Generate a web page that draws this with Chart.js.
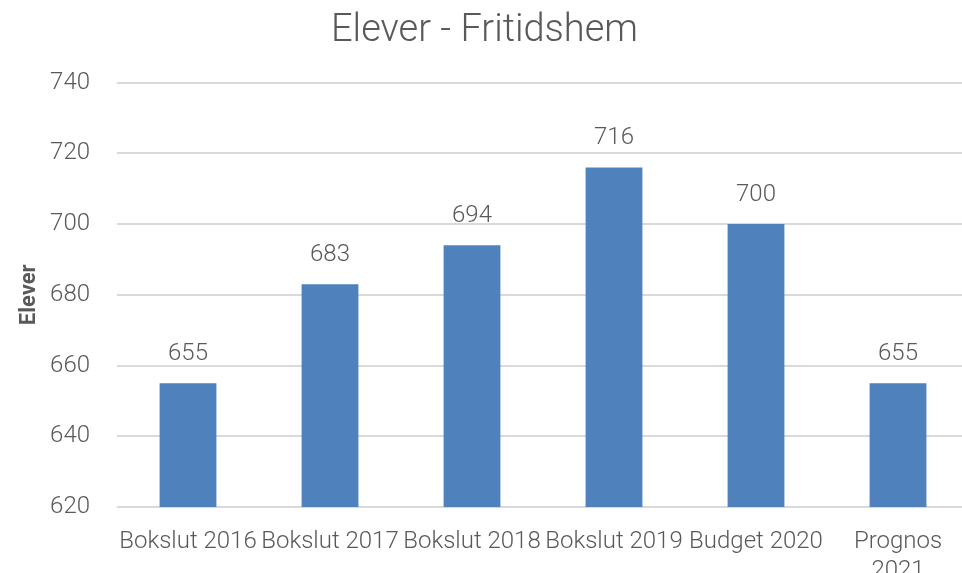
<!DOCTYPE html>
<html>
<head>
<meta charset="utf-8">
<script src="https://cdn.jsdelivr.net/npm/chart.js@4"></script>
<style>
  html, body { margin: 0; padding: 0; background: #fff; overflow: hidden; }
  /* canvas is a bit wider than the window: the plot runs past the right edge like the original */
  #wrap { width: 962px; height: 573px; overflow: hidden; }
</style>
</head>
<body>
<div id="wrap"><canvas id="myChart" width="969" height="573"></canvas></div>
<script>
const categories = ['Bokslut 2016', 'Bokslut 2017', 'Bokslut 2018', 'Bokslut 2019', 'Budget 2020', ['Prognos', '2021']];
const values = [655, 683, 694, 716, 700, 655];
const yTicks = [620, 640, 660, 680, 700, 720, 740];

const textColor = '#595959';
const fontFamily = 'Roboto, "Open Sans", sans-serif';

// draws the number above each bar
const valueLabels = {
    id: 'valueLabels',
    afterDatasetsDraw(chart) {
        const ctx = chart.ctx;
        const meta = chart.getDatasetMeta(0);
        ctx.save();
        ctx.font = '300 24px ' + fontFamily;
        ctx.fillStyle = textColor;
        ctx.textAlign = 'center';
        ctx.textBaseline = 'middle';
        meta.data.forEach((bar, i) => {
            ctx.fillText(values[i], bar.x, bar.y - 29);
        });
        ctx.restore();
    }
};

let ctx = document.getElementById('myChart');
let myChart = new Chart(ctx, {
    type: 'bar',
    data: {
        labels: categories,
        datasets: [{
            data: values,
            backgroundColor: '#4F81BD',
            barPercentage: 0.4,
            categoryPercentage: 1.0
        }]
    },
    options: {
        responsive: false,
        animation: false,
        layout: { padding: { left: 0, right: 0, top: 9, bottom: 0 } },
        plugins: {
            legend: { display: false },
            tooltip: { enabled: false },
            title: {
                display: true,
                text: 'Elever - Fritidshem',
                color: textColor,
                font: { family: fontFamily, size: 38, weight: '300' },
                padding: { top: 0, bottom: 28 }
            }
        },
        scales: {
            x: {
                grid: { display: false },
                border: { display: false },
                ticks: {
                    color: textColor,
                    font: { family: fontFamily, size: 24, weight: '300' },
                    maxRotation: 0,
                    autoSkip: false,
                    padding: 13
                },
                afterFit: (scale) => {
                    scale.height = 66;
                    scale.paddingLeft = 0;
                    scale.paddingRight = 0;
                }
            },
            y: {
                min: 620,
                max: 740,
                afterBuildTicks: (scale) => { scale.ticks = yTicks.map(v => ({ value: v })); },
                grid: { color: '#d9d9d9', lineWidth: 2, drawTicks: false },
                border: { display: false },
                ticks: {
                    color: textColor,
                    font: { family: fontFamily, size: 24, weight: '300' },
                    padding: 27
                },
                title: {
                    display: true,
                    text: 'Elever',
                    color: textColor,
                    font: { family: fontFamily, size: 22, weight: 'bold' },
                    padding: { top: 16, bottom: 4 }
                },
                afterFit: (scale) => { scale.width = 117; }
            }
        }
    },
    plugins: [valueLabels]
});
</script>
</body>
</html>
